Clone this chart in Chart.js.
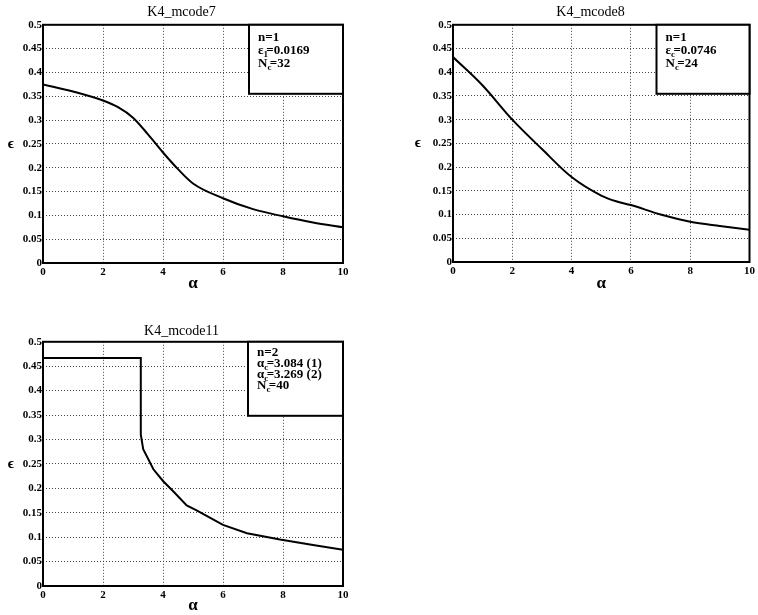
<!DOCTYPE html>
<html>
<head>
<meta charset="utf-8">
<script src="https://cdn.jsdelivr.net/npm/chart.js@4.4.0/dist/chart.umd.min.js"></script>
<style>
  body { margin: 0; background: #fff; }
  #wrap { position: relative; width: 758px; height: 615px; overflow: hidden; background: #fff; }
  canvas { position: absolute; }
</style>
</head>
<body>
<div id="wrap">
  <canvas id="c7" width="380" height="300" style="left:0;top:0"></canvas>
  <canvas id="c8" width="378" height="300" style="left:380px;top:0"></canvas>
  <canvas id="c11" width="380" height="322" style="left:0;top:300px"></canvas>
</div>
<script>
// K4_mcode7
const alpha7 = [0, 1, 2, 2.5, 3, 3.5, 4, 4.5, 5, 6, 7, 8, 9, 10];
const eps7 = [0.375, 0.360, 0.341, 0.327, 0.305, 0.270, 0.232, 0.197, 0.167, 0.136, 0.113, 0.098, 0.085, 0.075];
// K4_mcode8
const alpha8 = [0, 1, 2, 3, 4, 5, 5.5, 6, 7, 8, 9, 10];
const eps8 = [0.432, 0.372, 0.300, 0.238, 0.179, 0.140, 0.128, 0.120, 0.100, 0.085, 0.076, 0.068];
// K4_mcode11
const alpha11 = [0, 3.26, 3.26, 3.34, 3.68, 4.0, 4.34, 4.79, 5.12, 6.0, 6.8, 7.9, 9.0, 10];
const eps11 = [0.467, 0.467, 0.31, 0.28, 0.239, 0.215, 0.194, 0.165, 0.155, 0.125, 0.108, 0.095, 0.084, 0.074];

const xTicks = [0, 2, 4, 6, 8, 10];
const yTicks = [0, 0.05, 0.1, 0.15, 0.2, 0.25, 0.3, 0.35, 0.4, 0.45, 0.5];

// text in the boxes: each line is [main, subscript, rest]
const box7 = [['n=1', '', ''], ['\u03b5', '1', '=0.0169'], ['N', 'c', '=32']];
const box8 = [['n=1', '', ''], ['\u03b5', 'c', '=0.0746'], ['N', 'c', '=24']];
const box11 = [['n=2', '', ''], ['\u03b1', 'c', '=3.084 (1)'], ['\u03b1', 'c', '=3.269 (2)'], ['N', 'c', '=40']];

const serif = 'Liberation Serif';

// frame, y title and info box
const framePlugin = {
  id: 'frame',
  afterDraw(chart, args, opts) {
    const ctx = chart.ctx;
    const a = chart.chartArea;
    ctx.save();
    ctx.strokeStyle = '#000';
    ctx.lineWidth = 2;
    ctx.strokeRect(a.left, a.top, a.right - a.left, a.bottom - a.top);

    // y axis title, not rotated
    ctx.fillStyle = '#000';
    ctx.font = 'bold 15px ' + serif;
    ctx.textAlign = 'center';
    ctx.textBaseline = 'middle';
    ctx.fillText('\u03f5', opts.yTitleX, (a.top + a.bottom) / 2);

    // info box
    const bx = a.right - opts.boxW, by = a.top;
    ctx.fillStyle = '#fff';
    ctx.fillRect(bx, by, opts.boxW, opts.boxH);
    ctx.strokeRect(bx, by, opts.boxW, opts.boxH);
    ctx.fillStyle = '#000';
    ctx.textAlign = 'left';
    ctx.textBaseline = 'alphabetic';
    opts.lines.forEach((ln, i) => {
      let x = bx + 9;
      const y = by + opts.firstLine + i * opts.lineGap;
      ctx.font = 'bold 13px ' + serif;
      ctx.fillText(ln[0], x, y);
      x += ctx.measureText(ln[0]).width;
      if (ln[1]) {
        ctx.font = 'bold 9px ' + serif;
        ctx.fillText(ln[1], x, y + 3);
        x += ctx.measureText(ln[1]).width * 0.6;
      }
      ctx.font = 'bold 13px ' + serif;
      ctx.fillText(ln[2], x, y);
    });
    ctx.restore();
  }
};

function makeChart(id, title, xs, ys, o) {
  const pts = xs.map((x, i) => ({x: x, y: ys[i]}));
  return new Chart(document.getElementById(id), {
    type: 'line',
    data: {
      datasets: [{
        data: pts,
        borderColor: '#000',
        borderWidth: 2,
        pointRadius: 0,
        cubicInterpolationMode: o.smooth ? 'monotone' : 'default',
        tension: 0,
        fill: false
      }]
    },
    options: {
      responsive: false,
      animation: false,
      layout: { padding: { left: o.padLeft, right: o.padRight, top: o.padTop, bottom: 0 } },
      plugins: {
        legend: { display: false },
        tooltip: { enabled: false },
        title: {
          display: true,
          text: title,
          color: '#000',
          font: { family: serif, size: 14, weight: 'normal' },
          padding: { top: 4, bottom: o.titleBottom }
        },
        frame: { yTitleX: o.yTitleX, boxW: o.boxW, boxH: o.boxH, lines: o.lines, firstLine: o.firstLine, lineGap: o.lineGap }
      },
      scales: {
        x: {
          type: 'linear',
          min: 0, max: 10,
          afterFit: s => { s.height = o.xH; },
          afterBuildTicks: s => { s.ticks = xTicks.map(v => ({value: v})); },
          grid: { color: '#444', lineWidth: 1, drawTicks: false },
          border: { display: false, dash: [1, 2] },
          ticks: { color: '#000', padding: 3, font: { family: serif, size: 11, weight: 'bold' }, maxRotation: 0 },
          title: { display: true, text: '\u03b1', color: '#000', font: { family: serif, size: 17, weight: 'bold' }, padding: { top: 0, bottom: 6 } }
        },
        y: {
          type: 'linear',
          min: 0, max: 0.5,
          afterFit: s => { s.width = o.yW; },
          afterBuildTicks: s => { s.ticks = yTicks.map(v => ({value: v})); },
          grid: { color: '#444', lineWidth: 1, drawTicks: false },
          border: { display: false, dash: [1, 2] },
          ticks: {
            color: '#000', padding: 1,
            font: { family: serif, size: 11, weight: 'bold' },
            callback: v => String(Number(v.toFixed(2)))
          }
        }
      }
    },
    plugins: [framePlugin]
  });
}

makeChart('c7', 'K4_mcode7', alpha7, eps7, {
  smooth: true, padLeft: 20, padRight: 37, padTop: 0, titleBottom: 4,
  yW: 23, xH: 37, yTitleX: 11, boxW: 94, boxH: 69,
  lines: box7, firstLine: 16, lineGap: 13
});
makeChart('c8', 'K4_mcode8', alpha8, eps8, {
  smooth: true, padLeft: 50, padRight: 7, padTop: 0, titleBottom: 4,
  yW: 23, xH: 38, yTitleX: 38, boxW: 93, boxH: 69,
  lines: box8, firstLine: 16, lineGap: 13
});
makeChart('c11', 'K4_mcode11', alpha11, eps11, {
  smooth: false, padLeft: 20, padRight: 37, padTop: 19, titleBottom: 2,
  yW: 23, xH: 36, yTitleX: 11, boxW: 95, boxH: 74,
  lines: box11, firstLine: 14, lineGap: 11
});
</script>
</body>
</html>
